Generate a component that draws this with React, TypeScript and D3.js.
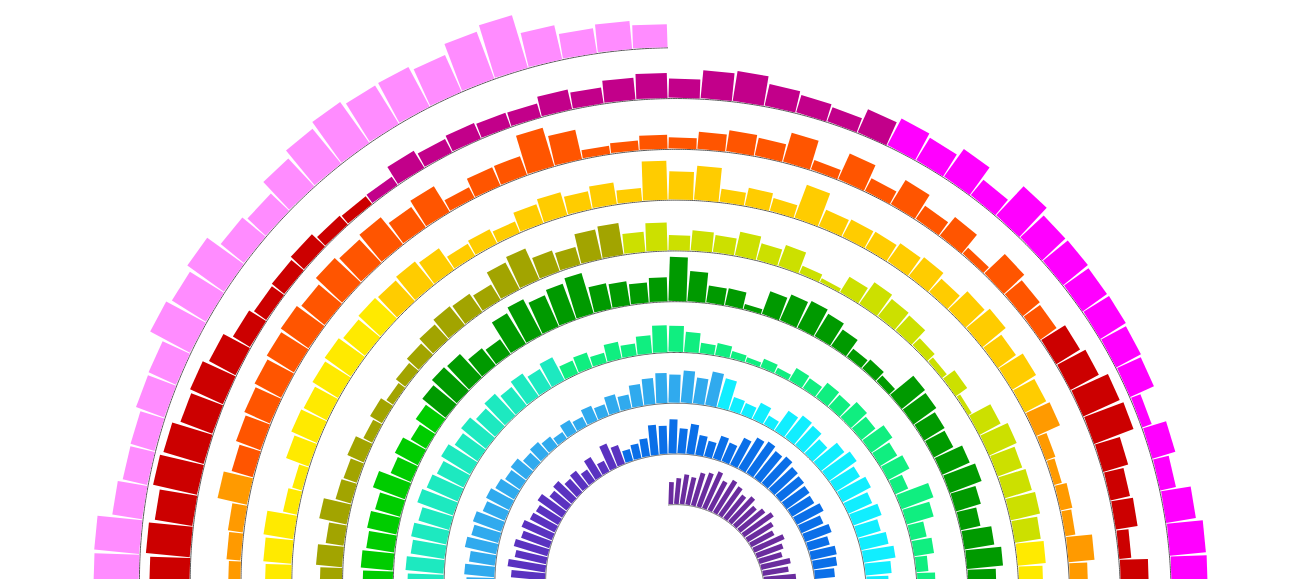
import React from "react";
import * as d3 from "d3";

// Spiral bar chart: bars laid along an Archimedean spiral, grouped by colour.
const groupNames = [
  "g01", "g02", "g03", "g04", "g05", "g06", "g07", "g08", "g09", "g10",
  "g11", "g12", "g13", "g14", "g15", "g16", "g17", "g18", "g19",
];

const groupColors = [
  "#6a2c9e", "#5a32c0", "#0a6fe8", "#30aaee", "#11eeff", "#1de9c0", "#10ee80",
  "#00cc00", "#009a00", "#a2a400", "#cce000", "#ffea00", "#ffcc00", "#ff9a00",
  "#ff5500", "#cc0000", "#c2008a", "#ff00ff", "#ff8cff",
];

const g01 = [22, 26, 30, 28, 34, 36, 40, 33, 38, 35, 30, 34, 28, 32, 36, 30, 26, 33, 28, 24, 30, 26, 32, 28, 25,
  27, 22, 30, 24, 28, 20, 26, 31, 23, 29, 25, 21, 27, 33, 24, 28, 22, 30, 26, 34, 29, 31, 35];
const g02 = [32, 28, 36, 30, 34, 27, 38, 31, 29, 35, 33, 37, 30, 34, 28, 36, 32, 39, 31, 35, 33, 37, 34, 38,
  36, 34, 38, 32, 35, 30, 33, 28, 26, 30, 22, 25, 18, 20, 14, 22, 12, 26, 20];
const g03 = [12, 15, 18, 30, 28, 34, 25, 30, 20, 16, 24, 20, 30, 36, 38, 34, 36, 32, 30, 28, 26, 30, 24, 28, 22, 26, 24, 20, 22, 18,
  24, 20, 27, 22, 18, 25, 21, 28, 23, 19, 26, 22, 29, 24, 20, 27, 23, 30, 25, 21, 28, 24, 26];
const g04 = [22, 26, 20, 28, 24, 30, 25, 21, 27, 23, 29, 26, 22, 30, 27, 24, 31, 26, 28, 25, 32, 27, 29, 30,
  28, 30, 26, 32, 28, 30, 24, 26, 22, 18, 20, 14, 16, 12, 8, 14, 10, 16, 12, 18, 14, 22, 26, 30, 28, 32, 26, 34];
const g05 = [30, 14, 12, 18, 10, 24, 28, 26, 20, 30, 34, 28, 32, 26, 30, 24, 28, 32, 26, 22, 28,
  26, 30, 24, 28, 22, 32, 27, 25, 29, 23, 31, 26, 28, 24, 33, 29, 27, 31, 25, 30, 34, 28, 32];
const g06 = [34, 30, 36, 32, 28, 35, 31, 37, 33, 29, 36, 32, 38, 34, 30, 35, 37, 33, 36, 34, 38, 35, 37, 36,
  36, 38, 34, 36, 32, 38, 34, 30, 34, 28, 32, 26, 30, 24, 28, 22, 26];
const g07 = [14, 16, 10, 17, 12, 18, 27, 26, 20, 10, 12, 7, 5, 9, 6, 14, 12, 18, 16, 22, 18, 26, 20, 24, 14, 34, 28, 16, 20, 12, 18, 14,
  18, 22, 15, 20, 24, 17, 21, 26, 19, 23, 16, 25, 20, 28, 22, 24, 27, 21, 26, 23, 29, 25, 27];
const g08 = [26, 30, 24, 28, 32, 27, 25, 31, 29, 33, 26, 30, 28, 34, 27, 31, 29, 25, 32, 28, 30, 33, 27, 31,
  30, 32, 28, 30, 26, 34, 22, 26, 18, 24];
const g09 = [30, 34, 32, 22, 18, 36, 40, 34, 38, 42, 26, 24, 20, 24, 44, 30, 17, 17, 5, 24, 28, 30, 26, 20, 10, 12, 8, 30, 28, 24, 22, 30, 34, 26, 20, 30, 36, 28, 24,
  30, 26, 33, 28, 24, 31, 27, 35, 29, 25, 32, 28, 22, 30, 26, 20, 24, 18, 22, 26, 19, 23, 21];
const g10 = [20, 24, 18, 22, 26, 19, 23, 17, 25, 21, 27, 20, 24, 18, 22, 26, 20, 23, 19, 25, 21, 24, 20, 23,
  22, 26, 18, 28, 16, 14, 18, 10, 14, 8, 12, 16, 20, 24, 22, 18, 30, 34, 22, 18, 30, 32];
const g11 = [20, 28, 15, 20, 17, 24, 17, 22, 8, 4, 18, 26, 22, 20, 10, 6, 14, 4, 24, 30, 26, 28, 30, 26];
const g12 = [28, 24, 26,
  22, 27, 25, 30, 23, 28, 26, 21, 29, 24, 27, 31, 25, 22, 28, 26, 30, 24, 27, 23, 29, 25, 28, 32, 26, 24, 30, 27, 22, 29, 25, 28, 31, 26, 23, 27, 30, 25, 28, 24, 29, 26, 31, 27, 25, 28, 26,
  26, 28, 30, 14, 10, 24, 28, 26, 30, 32, 28, 30];
const g13 = [28, 30, 26, 14, 16, 12, 20, 24, 18, 22, 13, 39, 28, 34, 13, 18, 13, 35, 18, 19, 19, 22, 24, 18, 26, 30, 22, 28, 24];
const g14 = [26, 10, 8, 12, 10, 26, 18, 16,
  20, 16, 24, 18, 14, 22, 19, 25, 17, 21, 15, 23, 20, 26, 18, 22, 16, 24, 19, 21, 17, 25, 20, 23, 18, 15, 22, 26, 19, 24, 17, 21, 20, 25, 16, 23, 18, 22, 27, 19, 24, 17, 21, 15, 20, 18, 14,
  12, 14, 15, 30];
const g15 = [22, 26, 28, 30, 32, 34, 30, 36, 32, 35, 25, 30, 12, 20, 20, 40, 30, 8, 10, 14, 11, 17, 21, 18, 30, 10, 28, 14, 28, 16, 24, 8, 28, 22, 20];
const g16 = [28, 32, 40, 42, 26, 20, 22, 12, 28, 22,
  30, 26, 34, 28, 24, 36, 31, 27, 33, 38, 29, 35, 25, 32, 37, 28, 34, 30, 26, 39, 33, 29, 36, 31, 27, 35, 40, 30, 34, 28, 37, 32, 38, 29, 35, 41, 31, 36, 33, 39, 30, 37, 34, 42, 36, 40, 38,
  40, 44, 38, 45, 42, 34, 36, 30, 20, 15, 16, 18, 12, 10];
const g17 = [10, 20, 15, 17, 15, 14, 20, 16, 22, 25, 19, 28, 30, 22, 18, 15, 25];
const g18 = [30, 26, 34, 20, 40, 32, 32, 30, 30, 28, 26, 10, 24, 16, 30, 36, 36, 46,
  42, 38, 45, 40, 36, 44, 39, 47, 41, 37, 43, 48, 40, 45, 38, 42, 46, 39, 44, 41, 47, 43, 45];
const g19 = [44, 40, 47, 42, 38, 45, 49, 41, 46, 43, 39, 48, 44, 50, 42, 46, 40, 47, 43, 49, 45, 41, 48, 52,
  45, 45, 30, 25, 25, 30, 30, 45, 40, 45, 30, 25, 38, 45, 50, 45, 45, 40, 50, 55, 35, 25, 28, 23];

const groupValues = [g01, g02, g03, g04, g05, g06, g07, g08, g09, g10, g11, g12, g13, g14, g15, g16, g17, g18, g19];

const W = 1311;
const H = 579;
const CX = 668;
const CY = 589;
const TURNS = 9;
const R0 = 84;
const R1 = 84 + 50.8 * 9;

type Bar = { group: string; color: string; value: number; index: number };

export default function App() {
  const bars: Bar[] = [];
  groupValues.forEach((vals, gi) => {
    vals.forEach((v) => {
      bars.push({ group: groupNames[gi], color: groupColors[gi], value: v, index: bars.length });
    });
  });
  const N = bars.length;
  const maxAngle = 2 * Math.PI * TURNS;

  const angleScale = d3.scaleLinear().domain([0, N]).range([0, maxAngle]);
  const radiusScale = d3.scaleLinear().domain([0, maxAngle]).range([R0, R1]);
  const yScale = d3.scaleLinear().domain([0, 60]).range([0, 60]);

  const spiral = d3
    .lineRadial<number>()
    .angle((a) => a)
    .radius((a) => radiusScale(a));
  const pts = d3.range(0, maxAngle, 0.005).concat([maxAngle]);
  const pathD = spiral(pts) || "";

  return (
    <svg
      width={W}
      height={H}
      style={{ position: "absolute", left: 0, top: 0, background: "#fff" }}
    >
      <g transform={`translate(${CX},${CY})`}>
        <path d={pathD} fill="none" stroke="#5a5a5a" strokeWidth={1} />
        {bars.map((b) => {
          const a0 = angleScale(b.index);
          const a1 = angleScale(b.index + 1);
          const am = (a0 + a1) / 2;
          const r = radiusScale(am);
          const w = 2 * r * Math.sin((a1 - a0) / 2) - 0.8;
          const h = yScale(b.value);
          const x = r * Math.sin(am);
          const y = -r * Math.cos(am);
          const deg = (am * 180) / Math.PI;
          return (
            <rect
              key={b.index}
              x={-w / 2}
              y={-h - 0.6}
              width={w}
              height={h}
              fill={b.color}
              transform={`translate(${x},${y}) rotate(${deg})`}
            />
          );
        })}
      </g>
    </svg>
  );
}
